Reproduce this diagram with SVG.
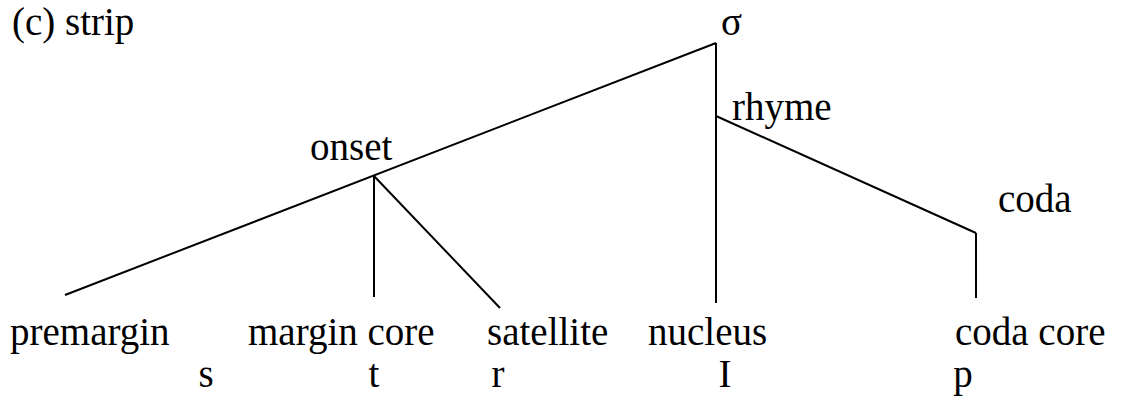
<svg xmlns="http://www.w3.org/2000/svg" width="1122" height="402" viewBox="0 0 1122 402">
<style>
text{font-family:"Liberation Serif","Times New Roman",serif;font-size:39px;fill:#000}
.e{stroke:#000;stroke-width:2;fill:none}
</style>
<rect width="1122" height="402" fill="#fff"/>
<text x="12" y="35">(c) strip</text>
<g id="connectors">
<line class="e" x1="716" y1="43" x2="65" y2="295"/>
<line class="e" x1="716" y1="43" x2="716" y2="303"/>
<line class="e" x1="374" y1="176" x2="374" y2="297"/>
<line class="e" x1="374" y1="176" x2="500" y2="308"/>
<line class="e" x1="716" y1="116" x2="976" y2="233"/>
<line class="e" x1="976" y1="233" x2="976" y2="298"/>
</g>
<g id="sigma"><text x="721" y="35">σ</text></g>
<g id="onset"><text x="310" y="160">onset</text></g>
<g id="rhyme"><text x="732" y="120">rhyme</text></g>
<g id="coda"><text x="998" y="212">coda</text></g>
<g id="premargin"><text x="10" y="345">premargin</text><text x="206" y="387" text-anchor="middle">s</text></g>
<g id="margincore"><text x="248" y="345">margin core</text><text x="374" y="387" text-anchor="middle">t</text></g>
<g id="satellite"><text x="487" y="345">satellite</text><text x="498" y="387" text-anchor="middle">r</text></g>
<g id="nucleus"><text x="648" y="345">nucleus</text><text x="725" y="387" text-anchor="middle">I</text></g>
<g id="codacore"><text x="955" y="345">coda core</text><text x="963" y="387" text-anchor="middle">p</text></g>
</svg>
